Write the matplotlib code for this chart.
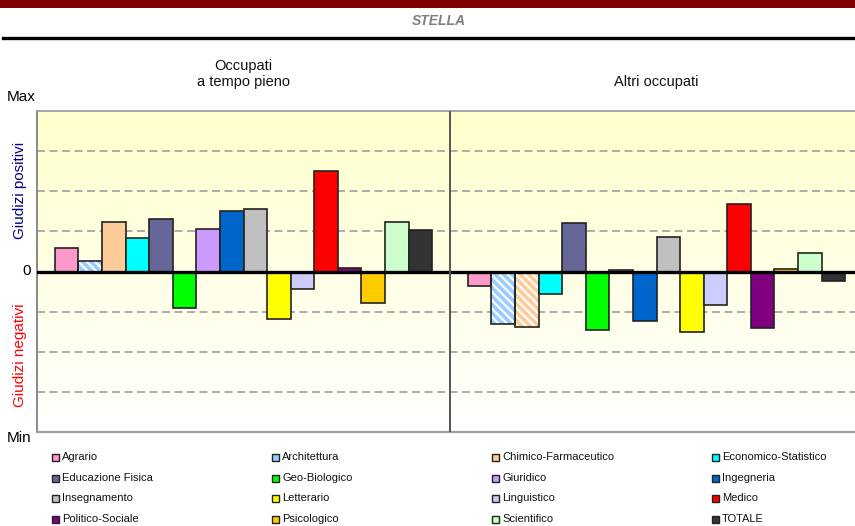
import matplotlib
matplotlib.use("Agg")
import matplotlib.pyplot as plt
import numpy as np
from matplotlib.patches import Rectangle
from matplotlib.lines import Line2D

# ---------------- data ----------------
categories = ["Agrario", "Architettura", "Chimico-Farmaceutico", "Economico-Statistico",
              "Educazione Fisica", "Geo-Biologico", "Giuridico", "Ingegneria",
              "Insegnamento", "Letterario", "Linguistico", "Medico",
              "Politico-Sociale", "Psicologico", "Scientifico", "TOTALE"]
colors = ["#FF99CC", "#99CCFF", "#FFCC99", "#00FFFF",
          "#666699", "#00FF00", "#CC99FF", "#0066CC",
          "#C0C0C0", "#FFFF00", "#CCCCFF", "#FF0000",
          "#800080", "#FFCC00", "#CCFFCC", "#333333"]
full_time = [0.58, 0.26, 1.24, 0.83, 1.30, -0.90, 1.07, 1.50,
             1.55, -1.19, -0.44, 2.51, 0.08, -0.78, 1.24, 1.04]
other_employed = [-0.37, -1.30, -1.39, -0.57, 1.21, -1.47, 0.04, -1.24,
                  0.86, -1.50, -0.83, 1.67, -1.42, 0.07, 0.46, -0.23]
hatched_full = ["Architettura"]
hatched_other = ["Architettura", "Chimico-Farmaceutico"]
panel_titles = [["Occupati", "a tempo pieno"], ["Altri occupati"]]
panel_values = [full_time, other_employed]
panel_hatched = [hatched_full, hatched_other]
y_labels = ["Max", "0", "Min"]

# ---------------- figure ----------------
W, H = 855, 526
fig = plt.figure(figsize=(W / 100, H / 100), dpi=100)
plt.rcParams['font.family'] = ['Liberation Sans', 'DejaVu Sans']
plt.rcParams['hatch.linewidth'] = 1.6


def fx(px):
    return px / W


def fy(py):
    return 1 - py / H


# header band and rule
fig.patches.append(Rectangle((0, fy(8)), 1, 8 / H, transform=fig.transFigure,
                             facecolor="#800000", edgecolor="none"))
fig.add_artist(Line2D([fx(3), 1], [fy(37.5), fy(37.5)], transform=fig.transFigure,
                      color="black", lw=2.4))
fig.text(fx(439), fy(21), "STELLA", ha="center", va="center", fontsize=10,
         fontstyle="italic", fontweight="bold", color="#808080")

# axes
left_px, right_px, top_px, bot_px = 37, 863, 111, 432
ax = fig.add_axes([fx(left_px), fy(bot_px), (right_px - left_px) / W, (bot_px - top_px) / H])
ax.set_xlim(0, 2)
ax.set_ylim(-4, 4)

# background gradient
grad = np.linspace(0, 1, 256).reshape(-1, 1)
top_c = np.array([1.0, 1.0, 0.80])
bot_c = np.array([1.0, 1.0, 1.0])
img = top_c[None, None, :] * (1 - grad[:, :, None]) + bot_c[None, None, :] * grad[:, :, None]
ax.imshow(img, extent=[0, 2, -4, 4], aspect="auto", zorder=0, origin="upper")

# grid
lw_g = 1.3
for g in [-3, -2, -1, 1, 2, 3]:
    ax.axhline(g, color="#A6A6A6", lw=lw_g, linestyle=(0, (8 * 0.72 / lw_g, 4.5 * 0.72 / lw_g)),
               zorder=1)

# bars
n = len(categories)
bw = 0.0571
gap = (1 - n * bw) / 2
for p, (vals, hat) in enumerate(zip(panel_values, panel_hatched)):
    xs = p + gap + (np.arange(n) + 0.5) * bw
    for x, v, c, cat in zip(xs, vals, colors, categories):
        if cat in hat:
            ax.bar(x, v, bw, color=c, edgecolor="white", hatch="\\\\\\\\", linewidth=0, zorder=2)
            ax.bar(x, v, bw, fill=False, edgecolor="#222222", linewidth=1.2, zorder=3)
        else:
            ax.bar(x, v, bw, color=c, edgecolor="#222222", linewidth=1.2, zorder=3)

# zero line and divider
ax.axhline(0, color="black", lw=2.4, zorder=4)
ax.axvline(1, color="#555555", lw=1.4, zorder=4)

ax.set_xticks([])
ax.set_yticks([])
ax.spines["right"].set_visible(False)
ax.spines["left"].set_color("#808080")
ax.spines["left"].set_linewidth(1.3)
ax.spines["top"].set_color("#A0A0A0")
ax.spines["top"].set_linewidth(1.3)
ax.spines["bottom"].set_color("#A0A0A0")
ax.spines["bottom"].set_linewidth(1.6)

# panel titles
panel_cx = [(left_px + (left_px + right_px) / 2) / 2, ((left_px + right_px) / 2 + right_px) / 2]
for cx, lines in zip(panel_cx, panel_titles):
    ys = [82] if len(lines) == 1 else [66, 82]
    for yy, t in zip(ys, lines):
        fig.text(fx(cx), fy(yy), t, ha="center", va="center", fontsize=10.5, color="#111111")

# y labels (Max / 0 / Min)
fig.text(fx(7), fy(97), y_labels[0], ha="left", va="center", fontsize=11)
fig.text(fx(31), fy(271), y_labels[1], ha="right", va="center", fontsize=11)
fig.text(fx(7), fy(438), y_labels[2], ha="left", va="center", fontsize=11)
fig.text(fx(20), fy(190), "Giudizi positivi", rotation=90, ha="center", va="center",
         fontsize=11, color="#000080")
fig.text(fx(20), fy(355), "Giudizi negativi", rotation=90, ha="center", va="center",
         fontsize=11, color="#FF0000")

# legend
col_x = [52, 272, 492, 712]
row_y = [457, 478, 498, 519]
for i, (cat, c) in enumerate(zip(categories, colors)):
    r, k = divmod(i, 4)
    x0, y0 = col_x[k], row_y[r]
    fig.patches.append(Rectangle((fx(x0), fy(y0 + 3.5)), 7 / W, 7 / H, transform=fig.transFigure,
                                 facecolor=c, edgecolor="#222222", lw=1.0))
    fig.text(fx(x0 + 10), fy(y0), cat, ha="left", va="center", fontsize=8, color="#111111")

fig.savefig("out.png", dpi=100)
